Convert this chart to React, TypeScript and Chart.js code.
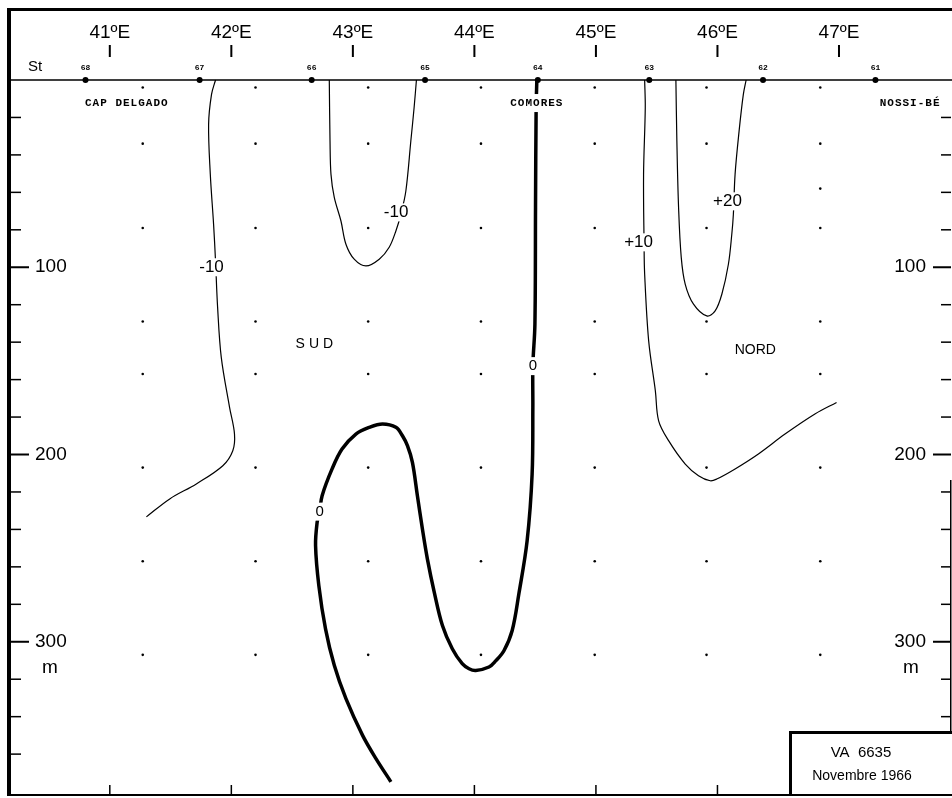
import React, { useEffect, useRef } from "react";
import { Chart, registerables } from "chart.js";

Chart.register(...registerables);

// ---------- data ----------
const lonTicks = [41, 42, 43, 44, 45, 46, 47];
const lonTickLabels = ["41ºE", "42ºE", "43ºE", "44ºE", "45ºE", "46ºE", "47ºE"];
const depthMajor = [100, 200, 300];
const depthMinor = [20, 40, 60, 80, 120, 140, 160, 180, 220, 240, 260, 280, 320, 340, 360];

const stationIds = ["68", "67", "66", "65", "64", "63", "62", "61"];
const stationLon = [40.8, 41.739, 42.661, 43.594, 44.522, 45.439, 46.375, 47.3];

const sampleLon = [41.271, 42.199, 43.126, 44.054, 44.99, 45.91, 46.846];
const sampleDepth = [4, 34, 79, 129, 157, 207, 257, 307];
const extraSamples: [number, number][] = [[46.846, 58]];

// isotach contours: [longitude, depth m]
const contourMinus10West: [number, number][] = [
  [41.87, 0], [41.837, 7.7], [41.813, 23.7], [41.827, 50.4], [41.854, 77.1],
  [41.87, 96.8], [41.887, 121.3], [41.917, 148.0], [41.985, 174.7], [42.026, 189.1],
  [42.012, 198.0], [41.93, 206.0], [41.712, 215.7], [41.493, 223.7], [41.301, 233.3],
];
const contourMinus10Mid: [number, number][] = [
  [42.806, 0], [42.812, 32.6], [42.82, 50.4], [42.847, 62.7], [42.902, 75.3],
  [42.943, 87.7], [43.011, 95.7], [43.108, 99.3], [43.217, 95.7], [43.299, 89.3],
  [43.354, 80.6], [43.395, 71.7], [43.436, 59.3], [43.477, 32.6], [43.504, 14.7],
  [43.523, 0],
];
const contourZero: [number, number][] = [
  [43.313, 374.8], [43.19, 362.4], [43.08, 350.0], [42.943, 330.4], [42.847, 312.6],
  [42.775, 293.1], [42.72, 270.0], [42.693, 248.6], [42.706, 236.2], [42.726, 230.5],
  [42.747, 222.0], [42.829, 207.7], [42.911, 197.1], [43.025, 189.1], [43.135, 185.5],
  [43.244, 183.7], [43.354, 185.5], [43.408, 190.0], [43.449, 195.3], [43.49, 204.2],
  [43.531, 222.0], [43.572, 239.7], [43.613, 255.7], [43.669, 273.3], [43.737, 291.3],
  [43.818, 303.7], [43.9, 311.7], [43.956, 314.4], [44.011, 315.3], [44.12, 313.5],
  [44.177, 310.1], [44.243, 304.8], [44.311, 294.0], [44.366, 274.4], [44.434, 246.0],
  [44.475, 210.4], [44.481, 174.7], [44.481, 152.6], [44.498, 130.4], [44.503, 68.0],
  [44.508, 14.7], [44.514, 0],
];
const contourPlus10: [number, number][] = [
  [45.401, 0], [45.406, 14.7], [45.392, 50.4], [45.396, 86.7], [45.401, 103.7],
  [45.434, 139.3], [45.489, 166.0], [45.516, 182.0], [45.598, 192.6], [45.735, 205.1],
  [45.844, 211.3], [45.94, 214.0], [45.994, 213.1], [46.145, 207.7], [46.337, 199.7],
  [46.556, 189.1], [46.802, 178.4], [46.98, 172.2],
];
const contourPlus20: [number, number][] = [
  [45.658, 0], [45.666, 32.6], [45.68, 68.0], [45.702, 94.7], [45.735, 109.1],
  [45.803, 119.7], [45.912, 126.0], [45.981, 123.3], [46.036, 114.4], [46.09, 98.4],
  [46.118, 82.4], [46.131, 71.7], [46.145, 50.4], [46.178, 27.3], [46.213, 7.7],
  [46.236, 0],
];

const contourLabelText = ["-10", "-10", "0", "0", "+10", "+20"];
const contourLabelLon = [41.837, 43.356, 42.726, 44.481, 45.351, 46.082];
const contourLabelDepth = [100.0, 70.7, 230.5, 152.8, 86.7, 64.8];

const regionText = ["SUD", "NORD"];
const regionLon = [42.683, 46.312];
const regionDepth = [141.1, 144.3];

const placeText = ["CAP DELGADO", "COMORES", "NOSSI-BÉ"];
const placeLon = [41.14, 44.514, 47.585];
const placeDepth = [12.5, 12.3, 12.5];

const boxLine1 = "VA  6635";
const boxLine2 = "Novembre 1966";

const SANS = '"Liberation Sans", Arial, sans-serif';
const MONO = '"Liberation Mono", "DejaVu Sans Mono", monospace';

const toPts = (a: [number, number][]) => a.map(([x, y]) => ({ x, y }));

const framePlugin = {
  id: "frame",
  beforeDatasetsDraw(chart: any) {
    const ctx = chart.ctx;
    const ys = chart.scales.y;
    const a = chart.chartArea;
    ctx.save();
    ctx.fillStyle = "#000";
    const y0 = ys.getPixelForValue(0);
    ctx.fillRect(a.left, y0 - 0.75, chart.width - a.left, 1.5);
    ctx.restore();
  },
  afterDatasetsDraw(chart: any) {
    const ctx = chart.ctx;
    const xs = chart.scales.x;
    const ys = chart.scales.y;
    const W = chart.width;
    ctx.save();
    ctx.fillStyle = "#000";
    // depth ticks left & right
    depthMinor.forEach((d) => {
      const p = ys.getPixelForValue(d);
      ctx.fillRect(11, p - 0.75, 10, 1.5);
      ctx.fillRect(W - 11, p - 0.75, 10, 1.5);
    });
    depthMajor.forEach((d) => {
      const p = ys.getPixelForValue(d);
      ctx.fillRect(11, p - 1, 18, 2);
      ctx.fillRect(W - 19, p - 1, 18, 2);
    });
    ctx.font = `19px ${SANS}`;
    ctx.textBaseline = "middle";
    depthMajor.forEach((d) => {
      const p = ys.getPixelForValue(d);
      ctx.textAlign = "left";
      ctx.fillText(String(d), 35, p);
      ctx.textAlign = "right";
      ctx.fillText(String(d), W - 26, p);
    });
    ctx.textAlign = "center";
    const pm = ys.getPixelForValue(315);
    ctx.fillText("m", 50, pm - 2);
    ctx.fillText("m", W - 41, pm - 2);

    // longitude ticks & labels
    lonTicks.forEach((l, i) => {
      const p = xs.getPixelForValue(l);
      ctx.fillRect(p - 1, 45, 2, 12);
      ctx.fillRect(p - 0.75, 785, 1.5, 10);
      ctx.font = `19px ${SANS}`;
      ctx.textAlign = "center";
      ctx.fillText(lonTickLabels[i], p, 33);
    });

    // station labels
    ctx.font = `15px ${SANS}`;
    ctx.textAlign = "center";
    ctx.fillText("St", 35, 67);
    ctx.font = `bold 8px ${MONO}`;
    stationIds.forEach((s, i) => {
      ctx.fillText(s, xs.getPixelForValue(stationLon[i]), 68);
    });

    // borders
    ctx.fillRect(7, 8, 4, 788);
    ctx.fillRect(7, 8, W - 7, 3);
    ctx.fillRect(W - 2, 480, 1.5, 316);

    // info box
    ctx.fillStyle = "#fff";
    ctx.fillRect(790, 732, W - 790, 63);
    ctx.fillStyle = "#000";
    ctx.fillRect(789, 731, 3, 65);
    ctx.fillRect(789, 731, W - 789, 3);
    ctx.fillRect(7, 794, W - 7, 2);
    ctx.font = `15px ${SANS}`;
    ctx.textAlign = "center";
    ctx.fillText(boxLine1, 861, 753);
    ctx.font = `14px ${SANS}`;
    ctx.fillText(boxLine2, 862, 776);

    // contour labels with white background
    const boxed = (t: string, x: number, y: number, font: string, spacing = 0) => {
      ctx.font = font;
      (ctx as any).letterSpacing = spacing + "px";
      const w = ctx.measureText(t).width;
      ctx.fillStyle = "#fff";
      ctx.fillRect(x - w / 2 - 2, y - 9, w + 4, 18);
      ctx.fillStyle = "#000";
      ctx.textAlign = "center";
      ctx.textBaseline = "middle";
      ctx.fillText(t, x, y);
      (ctx as any).letterSpacing = "0px";
    };
    contourLabelText.forEach((t, i) => {
      const f = t === "0" ? `15px ${SANS}` : `17px ${SANS}`;
      boxed(t, xs.getPixelForValue(contourLabelLon[i]), ys.getPixelForValue(contourLabelDepth[i]), f);
    });
    regionText.forEach((t, i) => {
      const sp = t === "SUD" ? 4 : 0;
      ctx.font = `14px ${SANS}`;
      (ctx as any).letterSpacing = sp + "px";
      ctx.fillStyle = "#000";
      ctx.textAlign = "center";
      ctx.fillText(t, xs.getPixelForValue(regionLon[i]) + sp / 2, ys.getPixelForValue(regionDepth[i]));
      (ctx as any).letterSpacing = "0px";
    });
    placeText.forEach((t, i) => {
      boxed(t, xs.getPixelForValue(placeLon[i]), ys.getPixelForValue(placeDepth[i]), `bold 11px ${MONO}`, 1);
    });
    ctx.restore();
  },
};

export default function App() {
  const ref = useRef<HTMLCanvasElement | null>(null);
  useEffect(() => {
    document.body.style.margin = "0";
    if (!ref.current) return;
    const line = (pts: [number, number][], w: number) => ({
      data: toPts(pts),
      showLine: true,
      borderColor: "#000",
      borderWidth: w,
      pointRadius: 0,
      tension: 0.35,
      fill: false,
      clip: false as any,
    });
    const samples: { x: number; y: number }[] = [];
    sampleLon.forEach((x) => sampleDepth.forEach((y) => samples.push({ x, y })));
    extraSamples.forEach(([x, y]) => samples.push({ x, y }));
    const chart = new Chart(ref.current, {
      type: "scatter",
      data: {
        datasets: [
          line(contourMinus10West, 1.2),
          line(contourMinus10Mid, 1.2),
          line(contourZero, 3.5),
          line(contourPlus10, 1.2),
          line(contourPlus20, 1.2),
          {
            data: samples,
            pointRadius: 1.3,
            pointBackgroundColor: "#000",
            pointBorderWidth: 0,
            showLine: false,
          } as any,
          {
            data: stationLon.map((x) => ({ x, y: 0 })),
            pointRadius: 3,
            pointBackgroundColor: "#000",
            pointBorderWidth: 0,
            showLine: false,
            clip: false,
          } as any,
        ],
      },
      options: {
        animation: false,
        responsive: false,
        devicePixelRatio: 1,
        events: [],
        layout: { padding: { left: 11, right: 2, top: 80, bottom: 3 } },
        plugins: { legend: { display: false }, tooltip: { enabled: false }, title: { display: false } },
        scales: {
          x: { type: "linear", display: false, min: 40.187, max: 47.897 },
          y: { type: "linear", display: false, min: 0, max: 381.3, reverse: true },
        },
      },
      plugins: [framePlugin],
    });
    return () => chart.destroy();
  }, []);
  return (
    <div style={{ position: "absolute", left: 0, top: 0, background: "#fff" }}>
      <canvas ref={ref} width={952} height={798} style={{ display: "block", width: 952, height: 798 }} />
    </div>
  );
}
